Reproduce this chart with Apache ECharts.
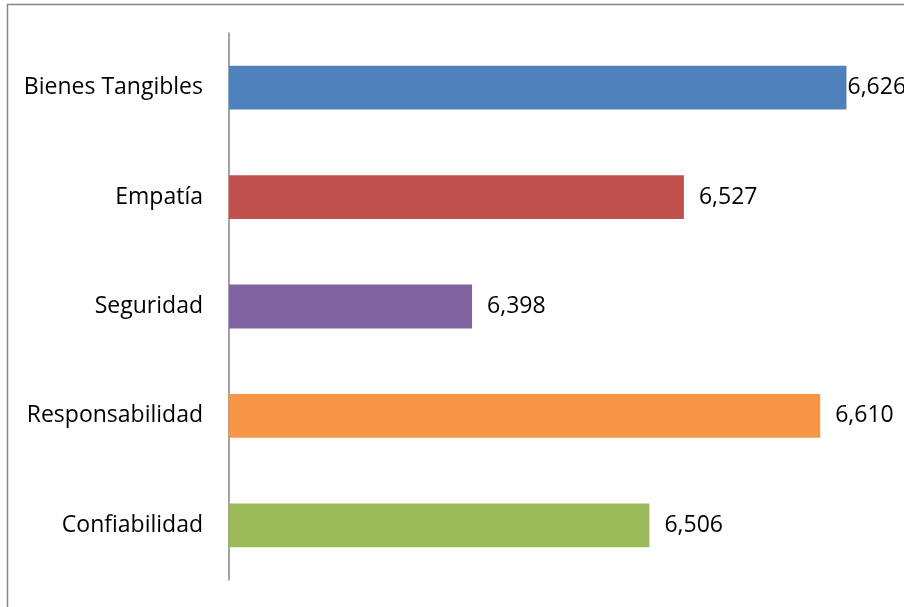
<!DOCTYPE html>
<html>
<head>
    <meta charset="UTF-8">
    <script src="https://cdn.jsdelivr.net/npm/echarts@6/dist/echarts.min.js"></script>
    <style>
        body { margin: 0; background: #fff; }
        #chart { width: 904px; height: 607px; }
    </style>
</head>
<body>
    <div id="chart"></div>
    <script type="text/javascript">
        // bottom to top, as the category axis draws them
        var categories = ['Confiabilidad', 'Responsabilidad', 'Seguridad', 'Empatía', 'Bienes Tangibles'];
        var values = [6.506, 6.610, 6.398, 6.527, 6.626];
        var colors = ['#9BBB59', '#F79646', '#8064A2', '#C0504D', '#4F81BD'];

        var chart = echarts.init(document.getElementById('chart'));

        var barData = [];
        for (var i = 0; i < values.length; i++) {
            barData.push({
                value: values[i],
                itemStyle: { color: colors[i] },
                // last label sits right against the bar end, like the original
                label: { distance: i == 4 ? 1 : 15 }
            });
        }

        var option = {
            animation: false,
            textStyle: { fontFamily: 'Open Sans' },
            graphic: [{
                type: 'rect',
                shape: { x: 7.5, y: 4.5, width: 1200, height: 1200 },
                style: { fill: 'none', stroke: '#868686', lineWidth: 1.5 },
                silent: true
            }],
            // the plot runs past the right edge of the picture
            grid: { left: 229, top: 33, bottom: 27, width: 739, outerBoundsMode: 'none' },
            xAxis: {
                type: 'value',
                min: 6.25,
                max: 6.7,
                show: false
            },
            yAxis: {
                type: 'category',
                data: categories,
                axisLine: { lineStyle: { color: '#868686', width: 1.5 } },
                axisTick: { show: false },
                axisLabel: { color: '#000', fontSize: 23, margin: 26 }
            },
            series: [{
                type: 'bar',
                data: barData,
                barCategoryGap: '60%',
                label: {
                    show: true,
                    position: 'right',
                    color: '#000',
                    fontSize: 23,
                    formatter: function (p) { return p.value.toFixed(3).replace('.', ','); }
                }
            }]
        };
        chart.setOption(option);
    </script>
</body>
</html>
